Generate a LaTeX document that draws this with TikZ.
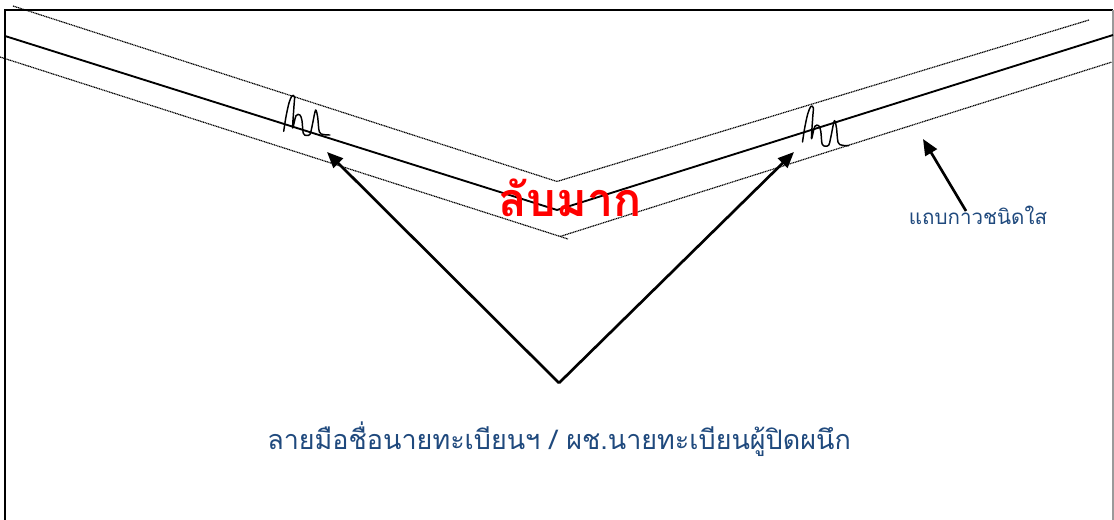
\documentclass[tikz,border=0pt]{standalone}
\usepackage{fontspec}
\usepackage{xcolor}
\usetikzlibrary{arrows.meta}
\newfontfamily\thaifont[Script=Thai]{Loma}
\definecolor{inkblue}{HTML}{1F497D}
\definecolor{stamp}{HTML}{FF0000}
\definecolor{edge}{HTML}{9A9A9A}
\tikzset{
  every node/.style={font=\thaifont},
  frame/.style={draw=black,line width=1.5pt},
  fold/.style={draw=black,line width=1.4pt},
  tape/.style={draw=black,line width=0.9pt,dash pattern=on 0.8pt off 0.5pt},
  ar/.style={-{Triangle[length=12pt,width=10pt]},draw=black,line width=2pt},
  lab/.style={color=inkblue,inner sep=0pt,anchor=base},
  secret/.style={font=\thaifont\bfseries\fontsize{35}{38}\selectfont,color=stamp,inner sep=0pt,anchor=base},
  scrawl/.pic={
    \draw[line width=1.1pt,line join=round,line cap=round] plot[smooth,tension=0.55] coordinates
      {(0,2) (2.3,-12.6) (5.3,-26.3) (8.3,-33.5) (10.8,-32.3) (10.2,-22.3) (9,-1.3)
       (12.3,-13.6) (16.3,-14.2) (18.3,-8.6) (19.6,4) (23,6.2) (26.3,5) (28,-1.3)
       (31.3,-17.5) (32.5,-18.6) (34,-12) (35.6,2.4) (39.6,5.2) (46.3,5.7)};
  },
}
\begin{document}
\begin{tikzpicture}[x=0.75pt,y=-0.75pt]
\useasboundingbox (0,0) rectangle (1114,520);
% envelope edges, open at the bottom
\draw[frame] (5,520) -- (5,10) -- (1113,10);
\draw[draw=edge,line width=0.8pt] (1113,10) -- (1113,520);

% flap fold and the clear tape over it
\draw[tape] (13,6) -- (557,181.5) -- (1089,20);
\draw[fold] (5,36) -- (557,210) -- (1113,35);
\draw[tape] (0,57) -- (568,239);
\draw[tape] (560,236.5) -- (1112,62);

% signatures across the tape
\pic at (283.7,129.3) {scrawl};
\pic at (802.5,140) {scrawl};

% labels
\node[secret] (lab-secret) at (570,217) {ลับมาก};
\node[lab,font=\thaifont\fontsize{15.4}{17}\selectfont] (lab-tape) at (978,225) {แถบกาวชนิดใส};
\node[lab,font=\thaifont\fontsize{20.2}{22}\selectfont] (lab-sign) at (559,449)
  {ลายมือชื่อนายทะเบียนฯ / ผช.นายทะเบียนผู้ปิดผนึก};

% arrows
\coordinate (apex) at (559,383);
\coordinate (sig-l) at (327,152);
\coordinate (sig-r) at (794,152);
\coordinate (tape-foot) at (966,211);
\coordinate (tape-tip) at (923,139);
\draw[ar] (apex) -- (sig-l);
\draw[ar] (apex) -- (sig-r);
\draw[ar] (tape-foot) -- (tape-tip);
\end{tikzpicture}
\end{document}
